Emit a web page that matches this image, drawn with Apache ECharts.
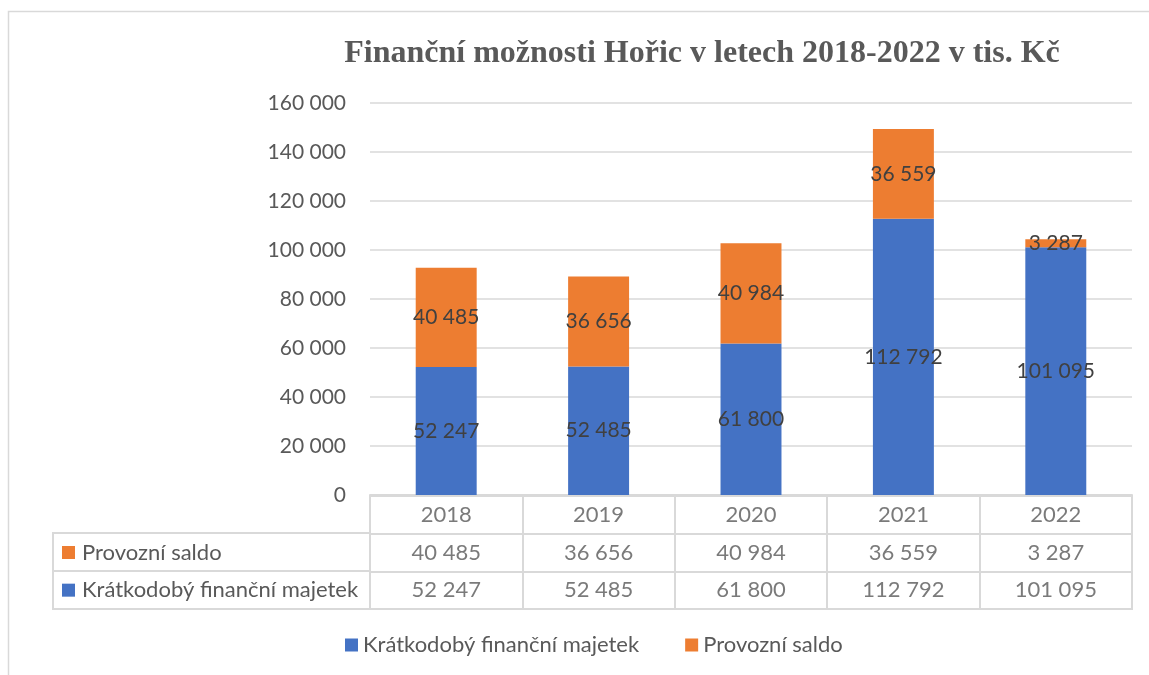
<!DOCTYPE html>
<html>
<head>
<meta charset="utf-8">
<script src="https://cdn.jsdelivr.net/npm/echarts@6/dist/echarts.min.js"></script>
<style>
  html, body { margin: 0; padding: 0; background: #fff; }
  #chart { width: 1149px; height: 675px; }
</style>
</head>
<body>
<div id="chart"></div>
<script>
// data
var years = ['2018', '2019', '2020', '2021', '2022'];
var majetek = [52247, 52485, 61800, 112792, 101095];
var saldo = [40485, 36656, 40984, 36559, 3287];
var seriesNames = ['Krátkodobý finanční majetek', 'Provozní saldo'];
var rowNames = ['', 'Provozní saldo', 'Krátkodobý finanční majetek'];

var BLUE = '#4472C4', ORANGE = '#ED7D31';
var FONT = 'Lato';

function fmt(v) {
    return String(v).replace(/\B(?=(\d{3})+(?!\d))/g, ' ');
}

// table cells: [colIndex, rowIndex, text]
var cells = [];
years.forEach(function (y, i) {
    cells.push([i, 0, y]);
    cells.push([i, 1, fmt(saldo[i])]);
    cells.push([i, 2, fmt(majetek[i])]);
});

var chart = echarts.init(document.getElementById('chart'));
var option = {
    animation: false,
    title: {
        text: 'Finanční možnosti Hořic v letech 2018-2022 v tis. Kč',
        left: 697, top: 33, textAlign: 'center',
        textStyle: { fontFamily: 'Liberation Serif', fontWeight: 'bold', fontSize: 32, color: '#595959' }
    },
    legend: {
        data: seriesNames,
        bottom: 14, left: 340,
        itemWidth: 13, itemHeight: 13, itemGap: 46,
        icon: 'rect',
        textStyle: { fontFamily: FONT, fontSize: 22, color: '#595959' }
    },
    grid: [
        { left: 370, right: 17, top: 103, bottom: 180 },
        { left: 370, right: 17, top: 496, height: 113, show: true, borderColor: '#d9d9d9', borderWidth: 2 }
    ],
    xAxis: [
        {
            gridIndex: 0, type: 'category', data: years,
            axisLine: { lineStyle: { color: '#d9d9d9', width: 2 } },
            axisTick: { show: false }, axisLabel: { show: false }
        },
        {
            gridIndex: 1, type: 'category', data: years,
            axisLine: { show: false }, axisTick: { show: false }, axisLabel: { show: false },
            splitLine: { show: true, lineStyle: { color: '#d9d9d9', width: 2 } }
        }
    ],
    yAxis: [
        {
            gridIndex: 0, type: 'value', min: 0, max: 160000, interval: 20000,
            axisLine: { show: false }, axisTick: { show: false },
            axisLabel: {
                margin: 24, fontFamily: FONT, fontSize: 21, color: '#595959',
                formatter: function (v) { return fmt(v); }
            },
            splitLine: { lineStyle: { color: '#d9d9d9', width: 1.5 } }
        },
        {
            gridIndex: 1, type: 'category', data: rowNames, inverse: true,
            axisLine: { show: false }, axisTick: { show: false },
            splitLine: { show: true, lineStyle: { color: '#d9d9d9', width: 2 } },
            axisLabel: {
                align: 'left', margin: 308, fontFamily: FONT, fontSize: 22, color: '#595959',
                formatter: function (v) {
                    if (!v) return '';
                    return (v === 'Provozní saldo' ? '{o|}' : '{b|}') + '{t|' + v + '}';
                },
                rich: {
                    o: { width: 13, height: 13, backgroundColor: ORANGE },
                    b: { width: 13, height: 13, backgroundColor: BLUE },
                    t: { fontFamily: FONT, fontSize: 22, color: '#595959', padding: [0, 0, 0, 7] }
                }
            }
        }
    ],
    graphic: [
        { type: 'rect', shape: { x: 8.5, y: 11.5, width: 1200, height: 700 }, style: { fill: 'none', stroke: '#d9d9d9', lineWidth: 1.5 }, silent: true },
        { type: 'rect', shape: { x: 53, y: 533, width: 317, height: 76 }, style: { fill: 'none', stroke: '#d9d9d9', lineWidth: 2 }, silent: true },
        { type: 'line', shape: { x1: 53, y1: 571, x2: 370, y2: 571 }, style: { stroke: '#d9d9d9', lineWidth: 2 }, silent: true }
    ],
    series: [
        {
            name: seriesNames[0], type: 'bar', stack: 'a', data: majetek, barWidth: '40%',
            itemStyle: { color: BLUE },
            label: { show: true, position: 'inside', fontFamily: FONT, fontSize: 21, color: '#404040', formatter: function (p) { return fmt(p.value); } }
        },
        {
            name: seriesNames[1], type: 'bar', stack: 'a', data: saldo, barWidth: '40%',
            itemStyle: { color: ORANGE },
            label: { show: true, position: 'inside', fontFamily: FONT, fontSize: 21, color: '#404040', formatter: function (p) { return fmt(p.value); } }
        },
        {
            name: 'table', type: 'scatter', xAxisIndex: 1, yAxisIndex: 1, data: cells,
            symbolSize: 0, silent: true,
            label: { show: true, position: 'inside', fontFamily: FONT, fontSize: 22, color: '#595959', formatter: function (p) { return p.value[2]; } }
        }
    ]
};
chart.setOption(option);
</script>
</body>
</html>
